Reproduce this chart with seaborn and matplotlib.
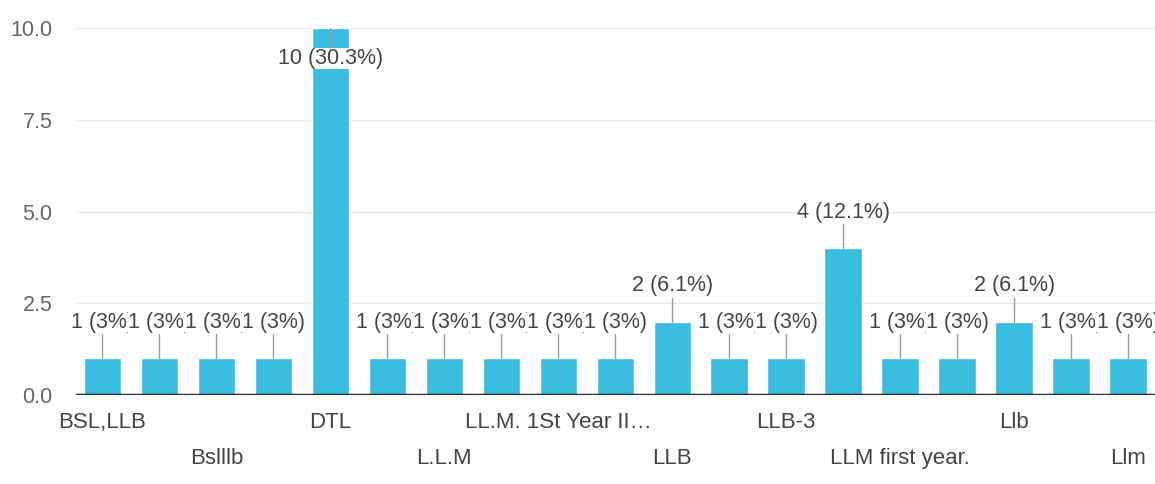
# Bar chart of course responses (Google Forms style)

import pandas as pd
import matplotlib
matplotlib.use('Agg')
import matplotlib.pyplot as plt
import seaborn as sns


# tick labels (only every second one is shown in the original chart)
tick_labels = ['BSL,LLB', '', 'Bslllb', '', 'DTL', '', 'L.L.M', '',
               'LL.M. 1St Year II…', '', 'LLB', '', 'LLB-3', '',
               'LLM first year.', '', 'Llb', '', 'Llm']
counts = [1, 1, 1, 1, 10, 1, 1, 1, 1, 1, 2, 1, 1, 4, 1, 1, 2, 1, 1]
point_labels = ['1 (3%)', '1 (3%)', '1 (3%)', '1 (3%)', '10 (30.3%)',
                '1 (3%)', '1 (3%)', '1 (3%)', '1 (3%)', '1 (3%)',
                '2 (6.1%)', '1 (3%)', '1 (3%)', '4 (12.1%)', '1 (3%)',
                '1 (3%)', '2 (6.1%)', '1 (3%)', '1 (3%)']
y_ticks = [0.0, 2.5, 5.0, 7.5, 10.0]

BAR_COLOR = '#39bce0'


def draw_chart():
    df = pd.DataFrame({'pos': range(len(counts)), 'count': counts})

    sns.set_style('white')
    plt.rcParams['font.family'] = ['Liberation Sans', 'DejaVu Sans']

    fig = plt.figure(figsize=(11.55, 4.84), dpi=100)
    ax = fig.add_axes([0.066, 0.184, 0.934, 0.758])

    sns.barplot(data=df, x='pos', y='count', color=BAR_COLOR, width=0.66,
                saturation=1, ax=ax, zorder=2)

    ax.set_xlim(-0.46, 18.47)
    ax.set_ylim(0, 10)
    ax.set_yticks(y_ticks)
    ax.set_yticklabels([f'{v:.1f}' for v in y_ticks])
    ax.yaxis.grid(True, color='#ececec', linewidth=1.0, zorder=0)
    ax.axhline(0, color='#2a2a2a', linewidth=2.5, zorder=3)
    for side in ['top', 'right', 'left', 'bottom']:
        ax.spines[side].set_visible(False)
    ax.set_xlabel('')
    ax.set_ylabel('')
    ax.tick_params(axis='y', length=0, pad=17, labelsize=15.5, labelcolor='#666666')

    # staggered category labels in two rows
    ax.set_xticks(range(len(tick_labels)))
    ax.set_xticklabels(tick_labels)
    ax.tick_params(axis='x', length=0, labelsize=16, labelcolor='#444444')
    for i, tick in enumerate(ax.xaxis.get_major_ticks()):
        tick.set_pad(12 if i % 4 == 0 else 38)

    # value labels with leader lines
    top = max(counts)
    for i, (v, lab) in enumerate(zip(counts, point_labels)):
        if v == top:
            ax.plot([i, i], [v, v - 0.5], color='#999999', linewidth=1, zorder=4)
            ax.text(i, v - 0.55, lab, ha='center', va='top', fontsize=15.5,
                    color='#444444', zorder=5 + i,
                    bbox=dict(facecolor='white', edgecolor='none', pad=0))
        else:
            ax.plot([i, i], [v, v + 0.65], color='#999999', linewidth=1, zorder=4)
            ax.text(i, v + 0.7, lab, ha='center', va='bottom', fontsize=15.5,
                    color='#444444', zorder=5 + i,
                    bbox=dict(facecolor='white', edgecolor='none', pad=0))

    fig.savefig('out.png', dpi=100)


def main():
    draw_chart()


if __name__ == "__main__":
    main()
